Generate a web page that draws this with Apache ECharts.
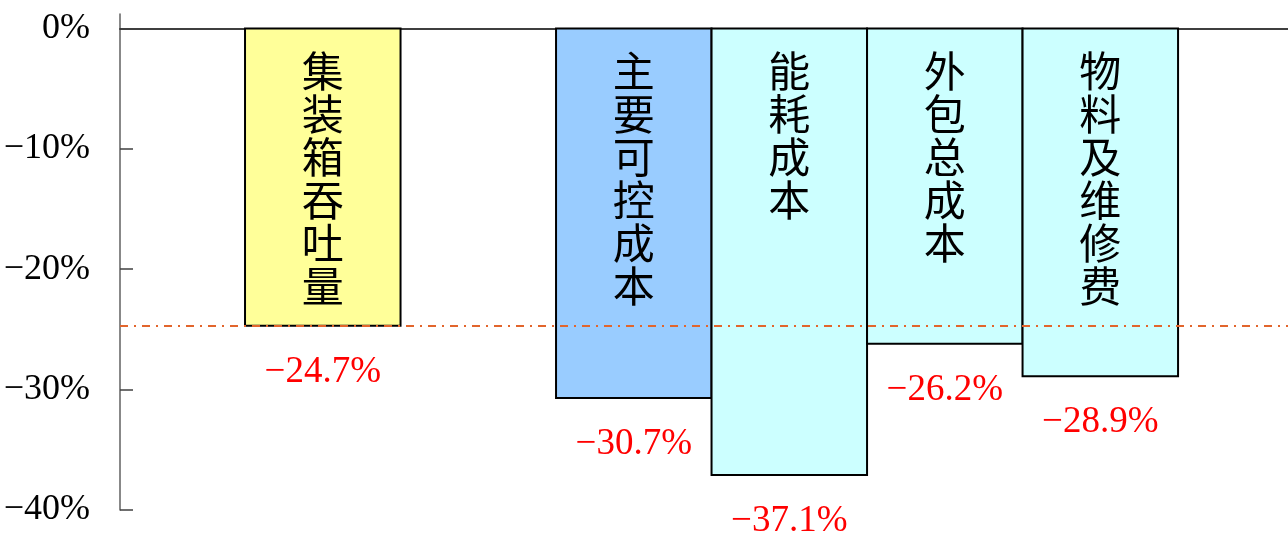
<!DOCTYPE html>
<html><head><meta charset="utf-8">
<script src="https://cdn.jsdelivr.net/npm/echarts@6/dist/echarts.min.js"></script>
<style>html,body{margin:0;padding:0;background:#fff}#c{width:1288px;height:538px}</style>
</head><body><div id="c"></div>
<script>
// ---- data ----
const categories = ['集装箱吞吐量', '主要可控成本', '能耗成本', '外包总成本', '物料及维修费'];
const slotIndex = [1, 3, 4, 5, 6];           // category slot (slot 2 is empty)
const values = [-24.7, -30.7, -37.1, -26.2, -28.9];
const yTicks = [-40, -30, -20, -10, 0];
const referenceValue = -24.7;

// ---- styles ----
const barColors = ['#FFFF99', '#99CCFF', '#CCFFFF', '#CCFFFF', '#CCFFFF'];
const numFont = 'Liberation Serif';
const cjkFont = 'Noto Sans CJK SC';

const fmtPct = v => (v < 0 ? '\u2212' : '') + Math.abs(v).toFixed(1) + '%';
const fmtTick = v => (v === 0 ? '0%' : (v < 0 ? '\u2212' : '') + Math.abs(v) + '%');

const chart = echarts.init(document.getElementById('c'), null, {renderer: 'canvas'});

function renderItem(params, api) {
  const i = params.dataIndex;
  const x = api.value(0), v = api.value(1);
  const p0 = api.coord([x - 0.5, 0]);
  const p1 = api.coord([x + 0.5, v]);
  const cx = (p0[0] + p1[0]) / 2;
  return {
    type: 'group',
    children: [
      {type: 'rect', shape: {x: p0[0], y: p0[1], width: p1[0] - p0[0], height: p1[1] - p0[1]},
       style: {fill: barColors[i], stroke: '#000', lineWidth: 2}},
      {type: 'text', x: cx, y: p0[1] + 21,
       style: {text: categories[i].split('').join('\n'), fontSize: 42, lineHeight: 43,
               fontFamily: cjkFont, fill: '#000', align: 'center', verticalAlign: 'top'}},
      {type: 'text', x: cx, y: p1[1] + 46,
       style: {text: fmtPct(v), fontSize: 37, fontFamily: numFont, fill: '#FF0000',
               align: 'center', verticalAlign: 'middle'}}
    ]
  };
}

chart.setOption({
  animation: false,
  backgroundColor: '#fff',
  grid: {left: 120, right: 0, top: 14, bottom: 28, containLabel: false},
  xAxis: {
    type: 'value', min: -0.304, max: 7.207,
    axisLine: {show: true, onZero: true, lineStyle: {color: '#000', width: 1.5}},
    axisTick: {show: false}, axisLabel: {show: false}, splitLine: {show: false}
  },
  yAxis: {
    type: 'value', min: -40, max: 1.2,
    axisLine: {show: true, onZero: false, lineStyle: {color: '#606060', width: 1.5}},
    axisTick: {show: true, inside: true, length: 13, customValues: yTicks,
               lineStyle: {color: '#404040', width: 1.5}},
    axisLabel: {customValues: yTicks, formatter: v => (yTicks.indexOf(v) >= 0 ? fmtTick(v) : ''),
                fontFamily: numFont, fontSize: 36, color: '#000', margin: 30},
    splitLine: {show: false}
  },
  series: [{
    type: 'custom',
    renderItem: renderItem,
    data: values.map((v, i) => [slotIndex[i], v]),
    markLine: {
      silent: true, symbol: ['none', 'none'], label: {show: false},
      lineStyle: {color: '#E2652C', width: 2, type: [8, 6, 2, 6]},
      data: [{yAxis: referenceValue}]
    }
  }]
});
</script></body></html>
